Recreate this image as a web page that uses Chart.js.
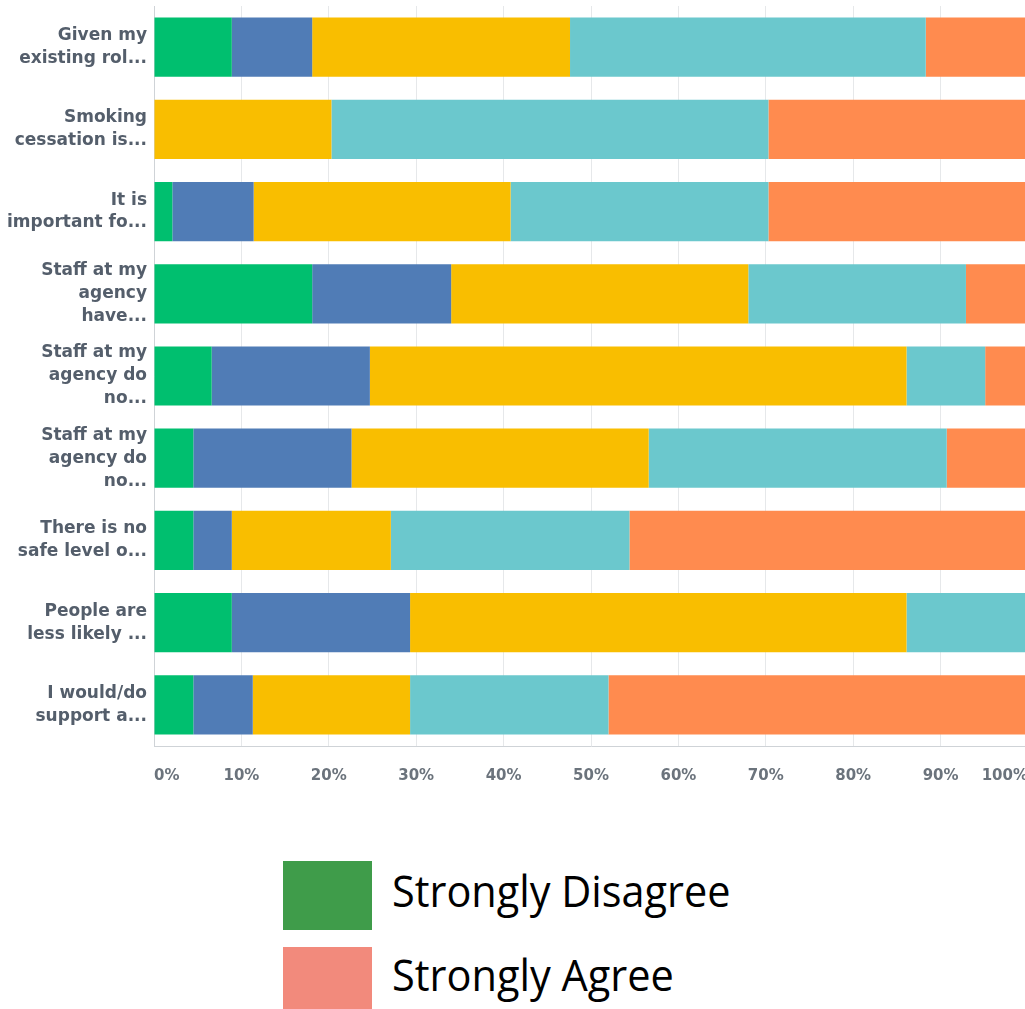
<!DOCTYPE html>
<html>
<head>
<meta charset="utf-8">
<script src="https://cdn.jsdelivr.net/npm/chart.js@4/dist/chart.umd.min.js"></script>
<style>
  body { margin: 0; background: #fff; overflow: hidden; width: 1025px; height: 1009px; position: relative; }
  #wrap { position: absolute; left: 0; top: 0; }
  .lg-box { position: absolute; left: 283px; width: 89px; }
  .lg-txt { position: absolute; left: 392px; font-family: "Open Sans", sans-serif; font-size: 44px; color: #000; white-space: nowrap; transform-origin: 0 50%; }
</style>
</head>
<body>
<div id="wrap"><canvas id="chart" width="1028" height="800"></canvas></div>
<div class="lg-box" style="top:861px;height:69px;background:#3f9c4a"></div>
<div class="lg-txt" id="t1" style="top:860px">Strongly Disagree</div>
<div class="lg-box" style="top:947px;height:62px;background:#f28a7c"></div>
<div class="lg-txt" id="t2" style="top:944px">Strongly Agree</div>
<script>
// survey statements (truncated like the original)
const categories = [
  ["Given my", "existing rol..."],
  ["Smoking", "cessation is..."],
  ["It is", "important fo..."],
  ["Staff at my", "agency", "have..."],
  ["Staff at my", "agency do", "no..."],
  ["Staff at my", "agency do", "no..."],
  ["There is no", "safe level o..."],
  ["People are", "less likely ..."],
  ["I would/do", "support a..."]
];
const seriesNames = ["Strongly Disagree", "Disagree", "Neither agree nor disagree", "Agree", "Strongly Agree"];
const stronglyDisagree = [8.9, 0, 2.1, 18.1, 6.6, 4.5, 4.5, 8.9, 4.5];
const disagree         = [9.2, 0, 9.3, 15.9, 18.1, 18.1, 4.4, 20.4, 6.8];
const neither          = [29.5, 20.3, 29.4, 34.0, 61.4, 34.0, 18.2, 56.8, 18.0];
const agree            = [40.7, 50.0, 29.5, 24.9, 9.0, 34.1, 27.3, 13.9, 22.7];
const stronglyAgree    = [11.7, 29.7, 29.8, 7.1, 4.9, 9.3, 45.6, 0, 48.0];
const colors = ["#00bf6f", "#507cb6", "#f9be00", "#6bc8cd", "#ff8b4f"];

const values = [stronglyDisagree, disagree, neither, agree, stronglyAgree];

new Chart("chart", {
  type: "bar",
  data: {
    labels: categories,
    datasets: values.map((v, i) => ({
      label: seriesNames[i],
      data: v,
      backgroundColor: colors[i],
      borderWidth: 0,
      categoryPercentage: 1,
      barPercentage: 0.72
    }))
  },
  options: {
    indexAxis: "y",
    responsive: false,
    animation: false,
    layout: { padding: { top: 6, left: 0, right: 0, bottom: 0 } },
    plugins: { legend: { display: false }, tooltip: { enabled: false } },
    scales: {
      x: {
        stacked: true,
        min: 0, max: 100,
        grid: { color: "#e6e8ea", drawTicks: false },
        border: { color: "#cfd3d7" },
        ticks: {
          stepSize: 10,
          align: "inner",
          padding: 21,
          color: "#6b737c",
          font: { family: "'DejaVu Sans', sans-serif", weight: "bold", size: 15 },
          callback: v => v + "%"
        },
        afterFit: s => { s.height = 54; s.paddingLeft = 0; s.paddingRight = 0; }
      },
      y: {
        stacked: true,
        grid: { display: false, drawTicks: false },
        border: { color: "#cfd3d7" },
        ticks: {
          padding: 7,
          color: "#545e6b",
          font: { family: "'DejaVu Sans', sans-serif", weight: "bold", size: 17, lineHeight: 1.35 }
        },
        afterFit: s => { s.width = 154; s.paddingTop = 0; s.paddingBottom = 0; }
      }
    }
  }
});

// fit legend text widths to the picture
[["t1", 338], ["t2", 282]].forEach(([id, w]) => {
  const el = document.getElementById(id);
  el.style.transform = "scaleX(" + (w / el.offsetWidth) + ")";
});
</script>
</body>
</html>
